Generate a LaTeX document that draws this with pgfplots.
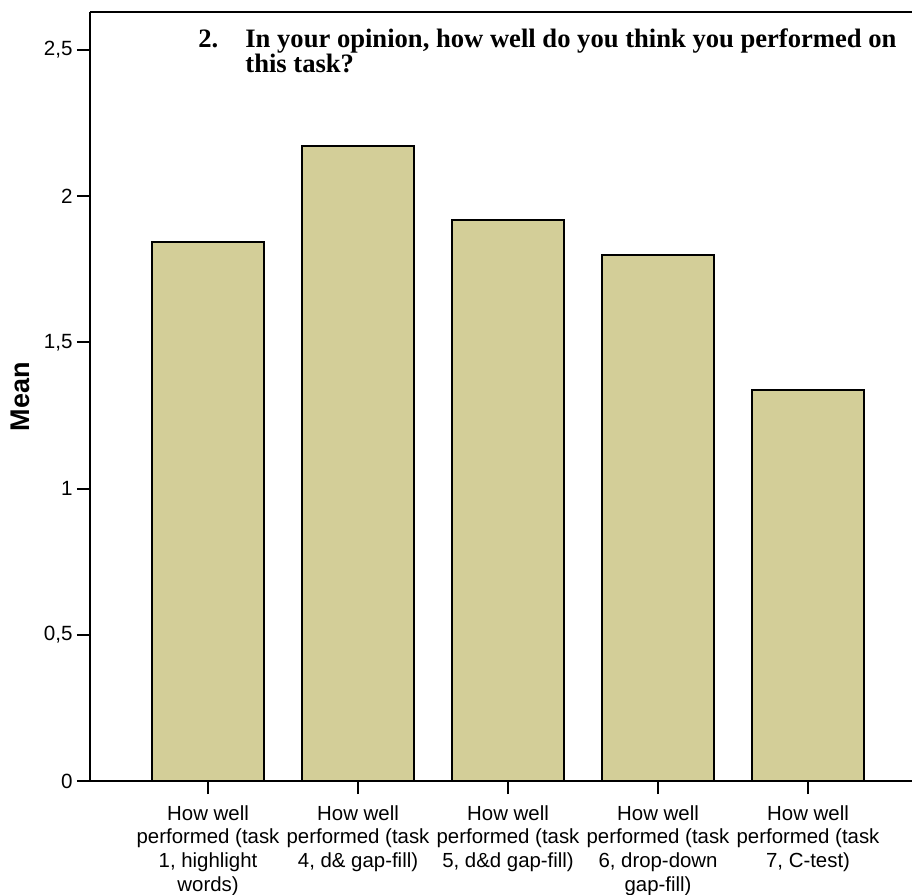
\documentclass[border=0pt]{standalone}
\usepackage{fontspec}
\setmainfont{Liberation Sans}
\newfontfamily\titlefont{Liberation Serif}
\usepackage{pgfplots}
\pgfplotsset{compat=1.18}
\definecolor{barfill}{RGB}{211,206,152}
\begin{document}
\begin{tikzpicture}
\useasboundingbox (-45pt,-57pt) rectangle (411pt,390.5pt);
\begin{axis}[
  at={(0,0)}, anchor=south west,
  scale only axis, width=411pt, height=384.5pt,
  xmin=0.213, xmax=5.693, ymin=0, ymax=2.63,
  axis x line=box, axis y line=left,
  axis line style={line width=1pt, -},
  tick align=outside, xtick pos=bottom, ytick pos=left,
  major tick length=6.5pt,
  tick style={line width=1pt, black},
  xtick={1,2,3,4,5},
  xticklabels={
    {How well\\performed (task\\1, highlight\\words)},
    {How well\\performed (task\\4, d\& gap-fill)},
    {How well\\performed (task\\5, d\&d gap-fill)},
    {How well\\performed (task\\6, drop-down\\gap-fill)},
    {How well\\performed (task\\7, C-test)}},
  xticklabel style={align=center, font=\fontsize{10.2}{11.9}\selectfont, inner sep=1pt, yshift=-4.5pt},
  ytick={0,0.5,1,1.5,2,2.5},
  yticklabels={0,{0,5},1,{1,5},2,{2,5}},
  yticklabel style={font=\fontsize{10.3}{12}\selectfont, inner sep=2pt},
  /pgf/number format/assume math mode=true,
  ybar, bar width=56pt,
]
\addplot[fill=barfill, draw=black, line width=1pt] coordinates {(1,1.843) (2,2.172) (3,1.919) (4,1.799) (5,1.336)};
\end{axis}
\node[rotate=90, anchor=center, inner sep=0pt, font=\bfseries\fontsize{13.5}{15}\selectfont] at (-35pt,192.25pt) {Mean};
\node[anchor=base west, inner sep=0pt, font=\titlefont\bfseries\fontsize{13.3}{12.5}\selectfont] at (54pt,366.5pt) {2.};
\node[anchor=base west, inner sep=0pt, align=left, font=\titlefont\bfseries\fontsize{13.3}{12.5}\selectfont] at (77.5pt,354pt) {In your opinion, how well do you think you performed on\\this task?};
\end{tikzpicture}
\end{document}
